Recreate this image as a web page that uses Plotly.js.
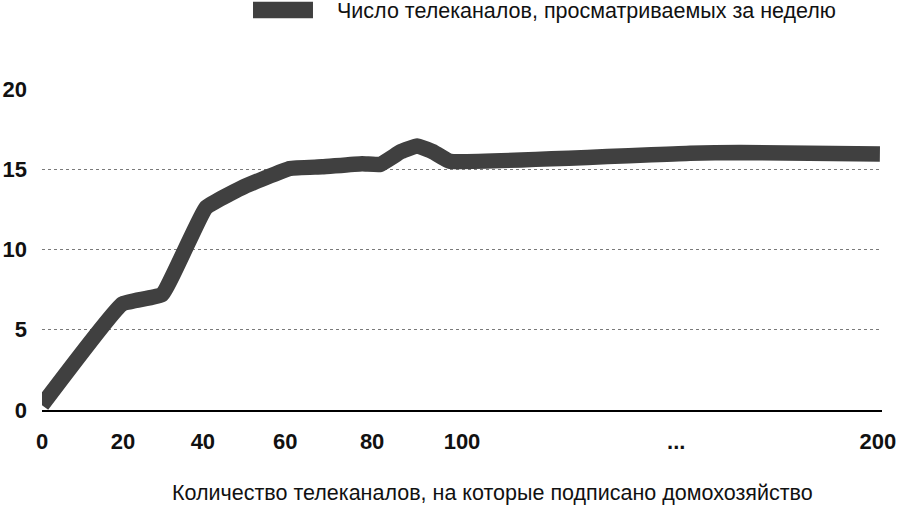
<!DOCTYPE html>
<html>
<head>
<meta charset="utf-8">
<script src="https://cdn.plot.ly/plotly-3.0.1.min.js"></script>
<style>html,body{margin:0;padding:0;background:#fff;}#chart{width:900px;height:505px;}</style>
</head>
<body>
<div id="chart"></div>
<script>
// Positions along the category axis (0..200 scale)
const xPositions = [0, 19.1, 28.6, 39.0, 47.6, 59.0, 66.7, 76.2, 80.5, 85.5, 89.3, 93.0, 97.1, 154.3, 166.2, 199.5];
// Number of channels watched per week
const channelsWatched = [0.3, 6.6, 7.2, 12.6, 13.85, 15.05, 15.15, 15.35, 15.3, 16.1, 16.45, 16.1, 15.5, 16.0, 16.05, 15.95];
const xTickVals = [0, 19.3, 38.3, 57.9, 78.6, 100, 151, 199];
const xTickText = ['0', '20', '40', '60', '80', '100', '...', '200'];
const yTickVals = [0, 5, 10, 15, 20];
const seriesName = 'Число телеканалов, просматриваемых за неделю';
const xTitle = 'Количество телеканалов, на которые подписано домохозяйство';

const lineColor = '#404040';
const tickFont = {family: 'Liberation Sans, Arial, sans-serif', size: 22, color: '#111', weight: 'bold'};
const textFont = {family: 'Liberation Sans, Arial, sans-serif', size: 21.5, color: '#111'};

const trace = {
  x: xPositions,
  y: channelsWatched,
  type: 'scatter',
  mode: 'lines',
  name: seriesName,
  line: {color: lineColor, width: 15.5, shape: 'spline', smoothing: 0.3},
  showlegend: false,
  hoverinfo: 'skip'
};

const layout = {
  width: 900, height: 505,
  margin: {l: 42, r: 18, t: 89, b: 95},
  paper_bgcolor: '#fff', plot_bgcolor: '#fff',
  showlegend: false,
  xaxis: {
    range: [0, 200], showgrid: false, zeroline: false,
    showline: true, linecolor: '#000', linewidth: 2,
    ticks: '', tickvals: xTickVals, ticktext: xTickText,
    tickfont: tickFont, ticklabelstandoff: 11, fixedrange: true
  },
  yaxis: {
    range: [0, 20], tickvals: yTickVals, showgrid: true,
    gridcolor: '#7a7a7a', griddash: 'dot', gridwidth: 1,
    zeroline: false, showline: false, ticks: '',
    tickfont: tickFont, ticklabelstandoff: 14, fixedrange: true
  },
  shapes: [{
    type: 'rect', xref: 'paper', yref: 'paper',
    x0: 0.2512, x1: 0.3226, y0: 1.2202, y1: 1.272,
    fillcolor: lineColor, line: {width: 0}
  }],
  annotations: [
    {text: seriesName, xref: 'paper', yref: 'paper', x: 0.3488, y: 1.2445,
     xanchor: 'left', yanchor: 'middle', showarrow: false, font: textFont},
    {text: xTitle, xref: 'paper', yref: 'paper', x: 0.536, y: -0.259,
     xanchor: 'center', yanchor: 'middle', showarrow: false, font: textFont}
  ]
};

Plotly.newPlot('chart', [trace], layout, {displayModeBar: false, staticPlot: true});
</script>
</body>
</html>
